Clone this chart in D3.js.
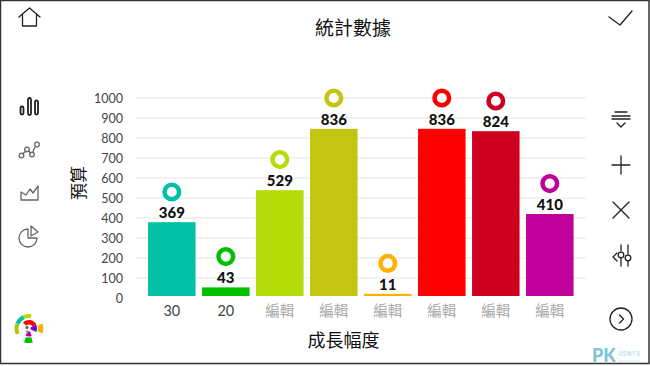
<!DOCTYPE html>
<html>
<head>
<meta charset="utf-8">
<script src="https://cdn.jsdelivr.net/npm/d3@7"></script>
<style>
html, body { margin: 0; padding: 0; background: #fff; }
svg { display: block; }
text { font-family: Lato, "Noto Sans CJK TC", sans-serif; }
.cjk { font-family: "Noto Sans CJK TC", sans-serif; }
.icon { fill: none; stroke: #222; stroke-width: 1.3; stroke-linecap: round; stroke-linejoin: round; }
.icon.grey { stroke: #666; }
</style>
</head>
<body>
<svg id="chart" width="650" height="366"></svg>
<script>
const categories = ["30", "20", "編輯", "編輯", "編輯", "編輯", "編輯", "編輯"];
const barValues = [369, 43, 529, 836, 11, 836, 824, 410];
const ringValues = [530, 207, 692, 1000, 173, 1000, 985, 572];
const barColors = ["#00c0a5", "#00c000", "#b5dc08", "#c2c511", "#ffb100", "#ff0000", "#cf001f", "#c0009a"];
const yTicks = [0, 100, 200, 300, 400, 500, 600, 700, 800, 900, 1000];
const logoArcs = [
  {r0: 10.5, r1: 14.5, a0: -115, a1: -68, c: "#b5c511"},
  {r0: 10.5, r1: 14.5, a0: -68, a1: -25, c: "#00c0a5"},
  {r0: 10.5, r1: 14.5, a0: -25, a1: 10, c: "#b5dc08"},
  {r0: 4, r1: 8.5, a0: -45, a1: 60, c: "#ff0000"},
  {r0: 9, r1: 14.5, a0: 70, a1: 110, c: "#ffb100"},
  {r0: 1.5, r1: 8, a0: 60, a1: 115, c: "#6a10c0"},
  {r0: 3, r1: 8, a0: 160, a1: 205, c: "#c0009a"},
  {r0: 9, r1: 14.5, a0: 165, a1: 200, c: "#00c000"}
];

const svg = d3.select("#chart");

const x = d3.scaleBand()
  .domain(d3.range(categories.length))
  .range([144.8, 576.8])
  .paddingInner(0.12)
  .paddingOuter(0.06);

const y = d3.scaleLinear().domain([0, 1000]).range([298, 98]);

// bars sit a little above the axis zero in the original
const baseline = 296;

// gridlines, the zero line is not drawn
svg.append("g")
  .selectAll("line")
  .data(yTicks.filter(d => d > 0))
  .join("line")
  .attr("x1", 135)
  .attr("x2", 586)
  .attr("y1", d => y(d))
  .attr("y2", d => y(d))
  .attr("stroke", "#eeeeee")
  .attr("stroke-width", 1.5);

// y tick labels
const yAxis = d3.axisLeft(y).tickValues(yTicks).tickFormat(d => d).tickSize(0).tickPadding(0);
const yAxisG = svg.append("g").attr("transform", "translate(123,0.5)").call(yAxis);
yAxisG.select(".domain").remove();
yAxisG.selectAll("text")
  .attr("font-family", "Lato")
  .attr("font-size", 12.5)
  .attr("fill", "#444");

// x labels
const xAxisG = svg.append("g")
  .attr("transform", "translate(0,311)")
  .call(d3.axisBottom(x).tickFormat(i => categories[i]).tickSize(0).tickPadding(0));
xAxisG.select(".domain").remove();
xAxisG.selectAll("text")
  .attr("y", 0)
  .attr("dy", "0.35em")
  .attr("font-size", 14.5)
  .attr("fill", (d, i) => categories[i] === "編輯" ? "#aaa" : "#444");

// bars
svg.append("g")
  .selectAll("rect")
  .data(barValues)
  .join("rect")
  .attr("x", (d, i) => x(i))
  .attr("width", x.bandwidth())
  .attr("y", d => baseline - (y(0) - y(d)))
  .attr("height", d => y(0) - y(d))
  .attr("fill", (d, i) => barColors[i]);

// value labels
svg.append("g")
  .selectAll("text")
  .data(barValues)
  .join("text")
  .attr("x", (d, i) => x(i) + x.bandwidth() / 2)
  .attr("y", d => baseline - (y(0) - y(d)) - 4)
  .attr("text-anchor", "middle")
  .attr("font-family", "Lato")
  .attr("font-weight", 900)
  .attr("font-size", 15)
  .attr("fill", "#111")
  .text(d => d);

// rings
svg.append("g")
  .selectAll("circle")
  .data(ringValues)
  .join("circle")
  .attr("cx", (d, i) => x(i) + x.bandwidth() / 2)
  .attr("cy", d => y(d))
  .attr("r", 7.3)
  .attr("fill", "#fff")
  .attr("stroke", (d, i) => barColors[i])
  .attr("stroke-width", 4.5);

// titles
svg.append("text").attr("class", "cjk")
  .attr("x", 353).attr("y", 35)
  .attr("text-anchor", "middle")
  .attr("font-size", 19).attr("fill", "#111")
  .text("統計數據");

svg.append("text").attr("class", "cjk")
  .attr("x", 343.5).attr("y", 347)
  .attr("text-anchor", "middle")
  .attr("font-size", 18).attr("fill", "#111")
  .text("成長幅度");

svg.append("text").attr("class", "cjk")
  .attr("transform", "translate(77,183) rotate(-90)")
  .attr("text-anchor", "middle")
  .attr("dominant-baseline", "central")
  .attr("font-size", 17).attr("fill", "#111")
  .text("預算");

// left toolbar
const icons = svg.append("g");
icons.append("path").attr("class", "icon")
  .attr("d", "M19 17 L29.5 8 L40 17 M22.5 15 V26 H36.5 V15");

const barIcon = icons.append("g").attr("class", "icon").style("stroke-width", 1.8);
[[20.5, 106.5, 8], [28, 98, 17], [35, 100.5, 14]].forEach(b => {
  barIcon.append("rect").attr("x", b[0]).attr("y", b[1]).attr("width", 3).attr("height", b[2]).attr("rx", 1.5);
});

const lineIcon = icons.append("g").attr("class", "icon grey");
lineIcon.append("path").attr("d", "M22.5 154 L26 151 M29 151 L30.5 153.5 M33 151.5 L35 147");
[[21.5, 155.5], [27, 149.5], [32, 154.5], [37, 144.5]].forEach(p => {
  lineIcon.append("circle").attr("cx", p[0]).attr("cy", p[1]).attr("r", 2.3);
});

icons.append("path").attr("class", "icon grey")
  .attr("d", "M21 200 V192 L26 195 L30 189 L33 193 L38 186 V200 Z");

icons.append("path").attr("class", "icon grey")
  .attr("d", "M28 229 A9 9 0 1 0 37 238 H28 Z M31 226 L38 232 L31 236 Z");

// logo
const logoArc = d3.arc();
const logo = svg.append("g").attr("transform", "translate(29,328.5)");
logo.selectAll("path")
  .data(logoArcs)
  .join("path")
  .attr("fill", d => d.c)
  .attr("d", d => logoArc({
    innerRadius: d.r0,
    outerRadius: d.r1,
    startAngle: d.a0 * Math.PI / 180,
    endAngle: d.a1 * Math.PI / 180
  }));
logo.append("circle").attr("cx", -2).attr("cy", -1).attr("r", 1.5).attr("fill", "#555");
logo.append("circle").attr("cx", -2).attr("cy", 3).attr("r", 1.3).attr("fill", "#999");

// right toolbar
const right = svg.append("g");
right.append("path").attr("class", "icon").attr("d", "M609 17 L620 25 L632 11");
right.append("path").attr("class", "icon").attr("d", "M615 112 H627 M612 116 H630 M612 119 H630 M617 123 L621 127 L625 123");
right.append("path").attr("class", "icon").attr("d", "M612 165 H630 M621 156 V174");
right.append("path").attr("class", "icon").attr("d", "M613 202 L629 218 M629 202 L613 218");
right.append("path").attr("class", "icon").attr("d", "M617 253 L613 257 L617 261 M621 245 V251 M621 258 V266 M628 245 V254 M628 261 V266");
right.append("circle").attr("class", "icon").attr("cx", 621).attr("cy", 255).attr("r", 2.8);
right.append("circle").attr("class", "icon").attr("cx", 628).attr("cy", 258).attr("r", 2.8);
right.append("circle").attr("class", "icon").attr("cx", 621).attr("cy", 319).attr("r", 11);
right.append("path").attr("class", "icon").attr("d", "M619.5 315 L623.5 319 L619.5 323");

// watermark
svg.append("text")
  .attr("x", 592).attr("y", 362)
  .attr("font-family", "Lato").attr("font-weight", 900)
  .attr("font-size", 18).attr("fill", "#7cc5d6")
  .text("PK");
svg.append("text").attr("class", "cjk")
  .attr("x", 618).attr("y", 355)
  .attr("font-size", 4.5).attr("fill", "#a8dbe6")
  .text("就是教不落");
svg.append("text")
  .attr("x", 618).attr("y", 361.5)
  .attr("font-family", "Lato")
  .attr("font-size", 4.5).attr("fill", "#d5edf2")
  .text("pkstep.com");

// frame
svg.append("rect")
  .attr("x", 0.5).attr("y", 0.5)
  .attr("width", 648.5).attr("height", 363)
  .attr("fill", "none")
  .attr("stroke", "#333")
  .attr("stroke-width", 1.5);
</script>
</body>
</html>
